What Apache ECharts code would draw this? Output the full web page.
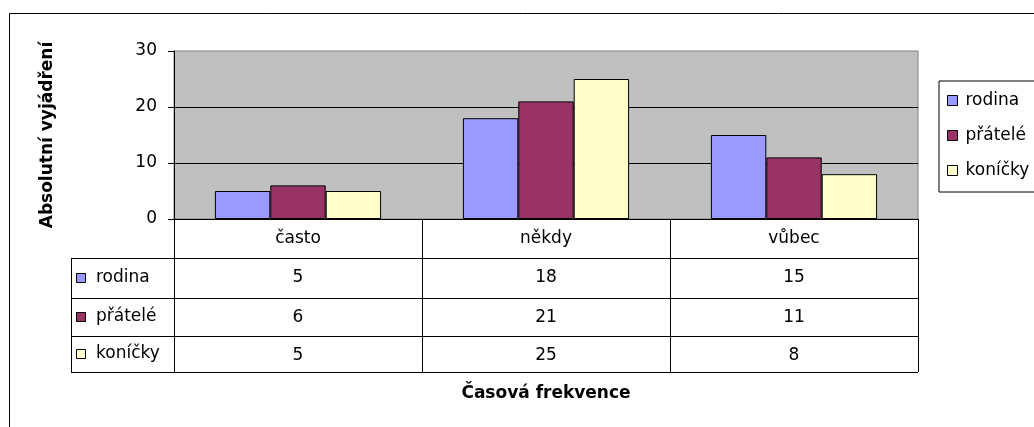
<!DOCTYPE html>
<html>
<head>
<meta charset="utf-8">
<script src="https://cdn.jsdelivr.net/npm/echarts@6/dist/echarts.min.js"></script>
<style>
html, body { margin: 0; padding: 0; background: #fff; }
#chart { width: 1034px; height: 427px; }
</style>
</head>
<body>
<div id="chart"></div>
<script>
// data
const categories = ['často', 'někdy', 'vůbec'];
const seriesNames = ['rodina', 'přátelé', 'koníčky'];
const rodina = [5, 18, 15];
const pratele = [6, 21, 11];
const konicky = [5, 25, 8];
const yTicks = [0, 10, 20, 30];

const seriesValues = [rodina, pratele, konicky];
const colors = ['#9999ff', '#993366', '#ffffcc'];
const FONT = 'DejaVu Sans';
const FS = 17;

// layout (pixels)
const W = 1034, H = 427;
const GRID = { left: 174, top: 51, right: 116, bottom: 208 };
const ROW_OFFSETS = [39, 79, 117];   // distance of each data-table row top below the x axis
const ROW_BOTTOM = 153;
const TABLE_LEFT = 71;

const zeroY = H - GRID.bottom;
const plotRight = W - GRID.right;
const rowEdges = ROW_OFFSETS.concat([ROW_BOTTOM]).map(o => zeroY + o);

const chart = echarts.init(document.getElementById('chart'));

const headerAxis = {
    type: 'category',
    data: categories,
    position: 'bottom',
    axisLine: { show: true, lineStyle: { color: '#000', width: 1 } },
    axisTick: { show: true, alignWithLabel: false, length: ROW_OFFSETS[0], lineStyle: { color: '#000' } },
    axisLabel: { color: '#000', fontFamily: FONT, fontSize: FS, margin: 11 },
    name: 'Časová frekvence',
    nameLocation: 'middle',
    nameGap: 166,
    nameTextStyle: { color: '#000', fontFamily: FONT, fontSize: FS, fontWeight: 'bold' }
};

// one extra category axis per data-table row, labels are the values
const rowAxes = seriesValues.map((vals, i) => {
    const next = i < ROW_OFFSETS.length - 1 ? ROW_OFFSETS[i + 1] : ROW_BOTTOM;
    return {
        type: 'category',
        position: 'bottom',
        offset: ROW_OFFSETS[i],
        data: vals.map(String),
        axisLine: { show: true, lineStyle: { color: '#000', width: 1 } },
        axisTick: { show: true, alignWithLabel: false, length: next - ROW_OFFSETS[i], lineStyle: { color: '#000' } },
        axisLabel: { color: '#000', fontFamily: FONT, fontSize: FS, margin: 11 }
    };
});

const graphic = [
    { type: 'rect', silent: true, shape: { x: 9.5, y: 13.5, width: 1100, height: 500 },
      style: { fill: 'none', stroke: '#000', lineWidth: 1 } },
    { type: 'line', silent: true, shape: { x1: TABLE_LEFT + 0.5, y1: rowEdges[0], x2: TABLE_LEFT + 0.5, y2: rowEdges[3] },
      style: { stroke: '#000', lineWidth: 1 } },
    { type: 'line', silent: true, shape: { x1: GRID.left, y1: rowEdges[3] + 0.5, x2: plotRight, y2: rowEdges[3] + 0.5 },
      style: { stroke: '#000', lineWidth: 1 } }
];
rowEdges.forEach(y => {
    graphic.push({ type: 'line', silent: true, shape: { x1: TABLE_LEFT, y1: y + 0.5, x2: GRID.left, y2: y + 0.5 },
        style: { stroke: '#000', lineWidth: 1 } });
});
seriesNames.forEach((name, i) => {
    const cy = (rowEdges[i] + rowEdges[i + 1]) / 2;
    graphic.push({ type: 'rect', silent: true, shape: { x: 76.5, y: Math.round(cy - 5) + 0.5, width: 9, height: 9 },
        style: { fill: colors[i], stroke: '#000', lineWidth: 1 } });
    graphic.push({ type: 'text', silent: true, x: 96, y: cy,
        style: { text: name, fill: '#000', font: FS + 'px "' + FONT + '"', verticalAlign: 'middle' } });
});

chart.setOption({
    animation: false,
    grid: { left: GRID.left, top: GRID.top, right: GRID.right, bottom: GRID.bottom,
            show: true, backgroundColor: '#c0c0c0', borderColor: '#808080', borderWidth: 1 },
    legend: {
        orient: 'vertical', left: 939, top: 81,
        padding: [11, 40, 13, 8], itemGap: 18, itemWidth: 10, itemHeight: 10,
        borderColor: '#000', borderWidth: 1, icon: 'rect',
        itemStyle: { borderColor: '#000', borderWidth: 1 },
        textStyle: { color: '#000', fontFamily: FONT, fontSize: FS, padding: [0, 0, 0, 3] },
        data: seriesNames
    },
    xAxis: [headerAxis].concat(rowAxes),
    yAxis: {
        type: 'value', min: yTicks[0], max: yTicks[yTicks.length - 1], interval: yTicks[1] - yTicks[0],
        axisLine: { show: true, lineStyle: { color: '#000' } },
        axisTick: { show: true, length: 6, lineStyle: { color: '#000' } },
        axisLabel: { color: '#000', fontFamily: FONT, fontSize: FS, margin: 17 },
        splitLine: { show: true, showMaxLine: false, lineStyle: { color: '#000', width: 1 } },
        name: 'Absolutní vyjádření',
        nameLocation: 'middle', nameRotate: 90, nameGap: 118,
        nameTextStyle: { color: '#000', fontFamily: FONT, fontSize: FS, fontWeight: 'bold' }
    },
    series: seriesNames.map((name, i) => ({
        name: name,
        type: 'bar',
        xAxisIndex: 0,
        data: seriesValues[i],
        barGap: '0%',
        barCategoryGap: '33%',
        itemStyle: { color: colors[i], borderColor: '#000', borderWidth: 1 }
    })),
    graphic: graphic
});
</script>
</body>
</html>
